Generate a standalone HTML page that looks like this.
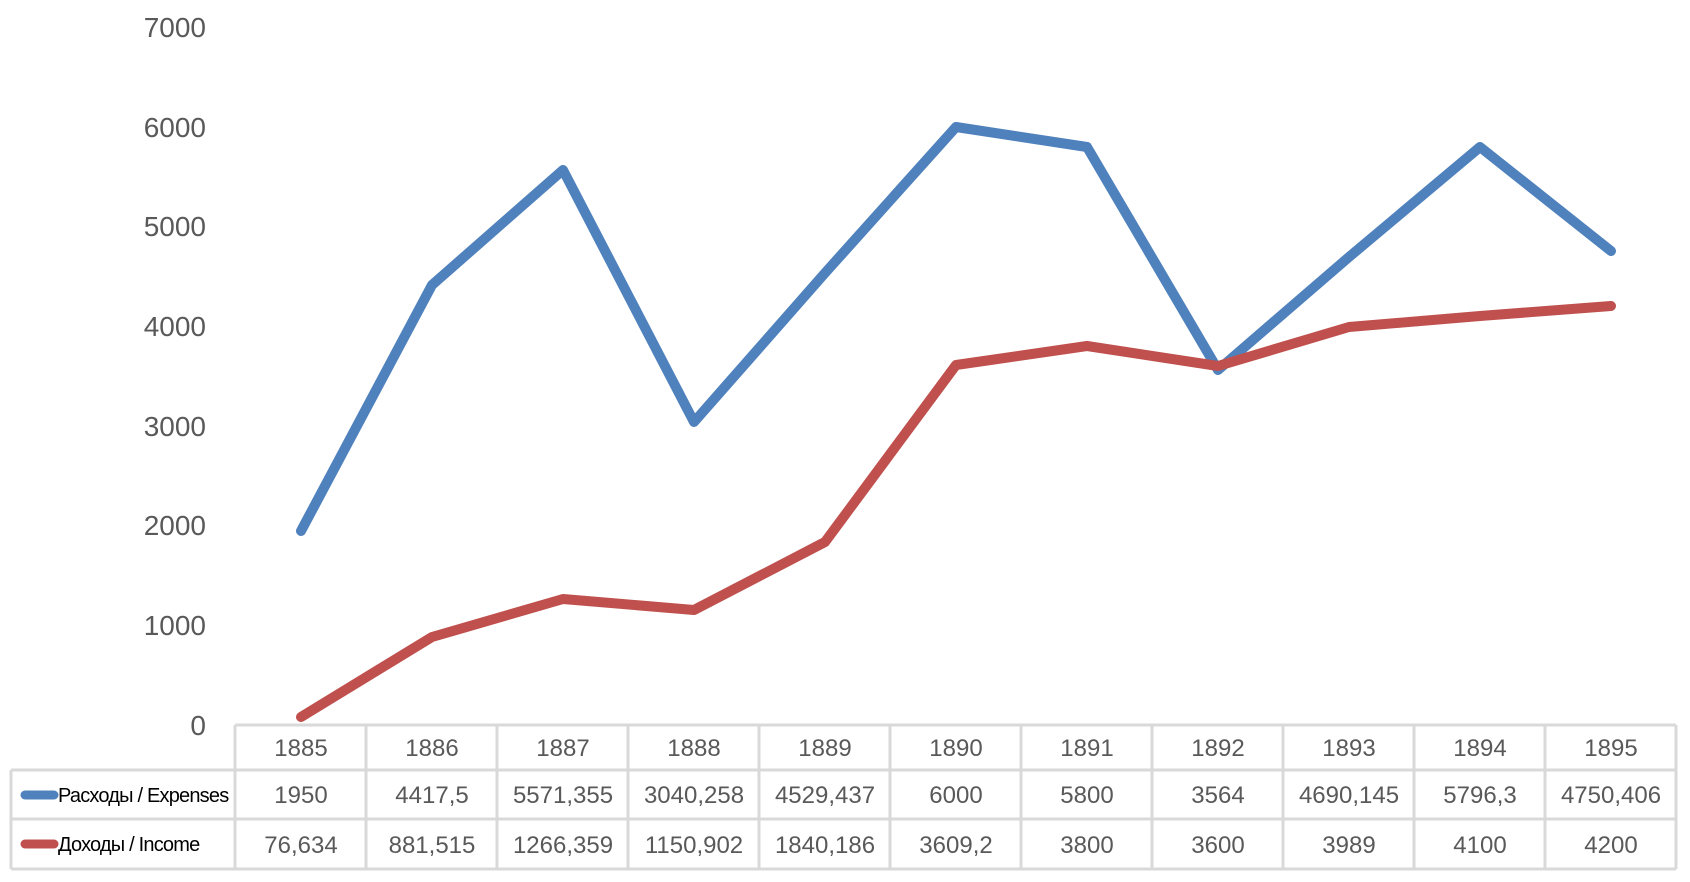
<!DOCTYPE html>
<html><head><meta charset="utf-8"><style>
body{margin:0;background:#fff;width:1690px;height:877px;overflow:hidden}
svg text{font-family:"Liberation Sans","DejaVu Sans",sans-serif}
</style></head><body>
<svg width="1690" height="877" viewBox="0 0 1690 877" xmlns="http://www.w3.org/2000/svg">
<g font-size="28" fill="#595959" text-anchor="end">
<text x="206" y="37">7000</text><text x="206" y="137">6000</text><text x="206" y="236">5000</text>
<text x="206" y="336">4000</text><text x="206" y="436">3000</text><text x="206" y="535">2000</text>
<text x="206" y="635">1000</text><text x="206" y="735">0</text>
</g>
<g fill="none" stroke-width="10" stroke-linejoin="round" stroke-linecap="round">
<polyline stroke="#4f81bd" points="301,531 432,285 563,170 694,422 825,273 956,127 1087,147 1218,370 1349,257 1480,147 1611,251"/>
<polyline stroke="#c0504d" points="301,717 432,637 563,599 694,610 825,542 956,365 1087,346 1218,366 1349,327 1480,316 1611,306"/>
</g>
<g stroke="#d9d9d9" stroke-width="3" fill="none">
<line x1="235" y1="725" x2="1676" y2="725"/>
<line x1="11" y1="770" x2="1676" y2="770"/>
<line x1="11" y1="819" x2="1676" y2="819"/>
<line x1="11" y1="869" x2="1676" y2="869"/>
<line x1="11" y1="770" x2="11" y2="869"/>
<line x1="235" y1="725" x2="235" y2="869"/>
<line x1="366" y1="725" x2="366" y2="869"/><line x1="497" y1="725" x2="497" y2="869"/>
<line x1="628" y1="725" x2="628" y2="869"/><line x1="759" y1="725" x2="759" y2="869"/>
<line x1="890" y1="725" x2="890" y2="869"/><line x1="1021" y1="725" x2="1021" y2="869"/>
<line x1="1152" y1="725" x2="1152" y2="869"/><line x1="1283" y1="725" x2="1283" y2="869"/>
<line x1="1414" y1="725" x2="1414" y2="869"/><line x1="1545" y1="725" x2="1545" y2="869"/>
<line x1="1676" y1="725" x2="1676" y2="869"/>
</g>
<g font-size="24" fill="#595959" text-anchor="middle">
<text x="301" y="756">1885</text><text x="432" y="756">1886</text><text x="563" y="756">1887</text><text x="694" y="756">1888</text><text x="825" y="756">1889</text><text x="956" y="756">1890</text><text x="1087" y="756">1891</text><text x="1218" y="756">1892</text><text x="1349" y="756">1893</text><text x="1480" y="756">1894</text><text x="1611" y="756">1895</text>
<text x="301" y="803">1950</text><text x="432" y="803">4417,5</text><text x="563" y="803">5571,355</text><text x="694" y="803">3040,258</text><text x="825" y="803">4529,437</text><text x="956" y="803">6000</text><text x="1087" y="803">5800</text><text x="1218" y="803">3564</text><text x="1349" y="803">4690,145</text><text x="1480" y="803">5796,3</text><text x="1611" y="803">4750,406</text>
<text x="301" y="853">76,634</text><text x="432" y="853">881,515</text><text x="563" y="853">1266,359</text><text x="694" y="853">1150,902</text><text x="825" y="853">1840,186</text><text x="956" y="853">3609,2</text><text x="1087" y="853">3800</text><text x="1218" y="853">3600</text><text x="1349" y="853">3989</text><text x="1480" y="853">4100</text><text x="1611" y="853">4200</text>
</g>
<line x1="25" y1="795" x2="54" y2="795" stroke="#4f81bd" stroke-width="9" stroke-linecap="round"/>
<line x1="25" y1="844" x2="54" y2="844" stroke="#c0504d" stroke-width="9" stroke-linecap="round"/>
<g font-size="20" fill="#000" letter-spacing="-0.8">
<text x="58" y="802">Расходы / Expenses</text>
<text x="58" y="851">Доходы / Income</text>
</g>
</svg>
</body></html>
